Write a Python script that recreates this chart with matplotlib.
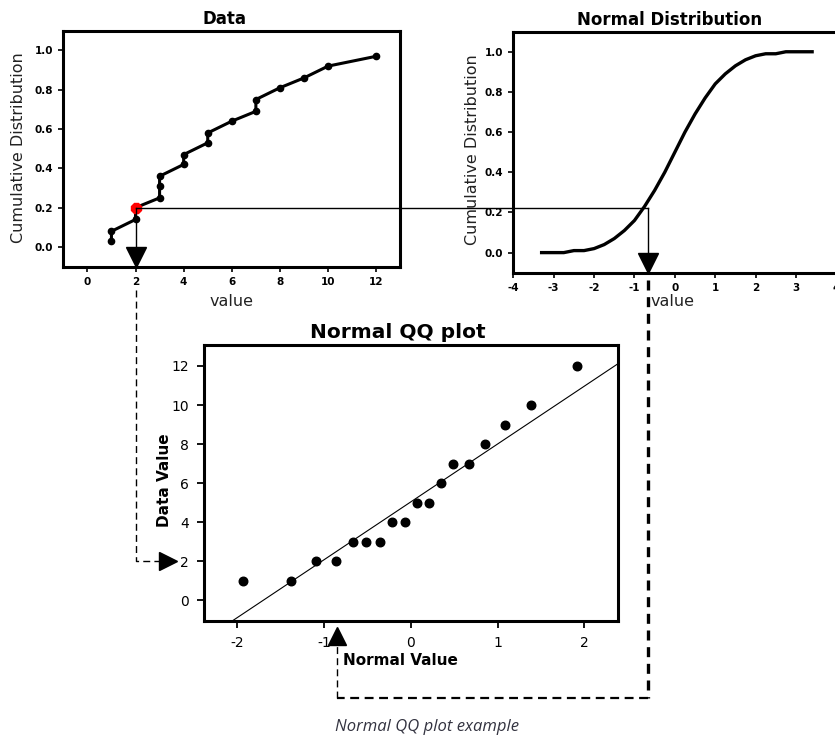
import matplotlib
matplotlib.use("Agg")
import matplotlib.pyplot as plt
from matplotlib.lines import Line2D
from matplotlib.ticker import FormatStrFormatter

plt.rcParams["axes.unicode_minus"] = False

data_sorted = [1, 1, 2, 2, 3, 3, 3, 4, 4, 5, 5, 6, 7, 7, 8, 9, 10, 12]
data_cum = [0.03, 0.08, 0.14, 0.20, 0.25, 0.31, 0.36, 0.42, 0.47, 0.53,
            0.58, 0.64, 0.69, 0.75, 0.81, 0.86, 0.92, 0.97]

# normal cdf curve
norm_x = [-3.3, -3.0, -2.75, -2.5, -2.25, -2.0, -1.75, -1.5, -1.25, -1.0, -0.75,
          -0.5, -0.25, 0.0, 0.25, 0.5, 0.75, 1.0, 1.25, 1.5, 1.75, 2.0, 2.25,
          2.5, 2.75, 3.0, 3.4]
norm_cdf = [0.00, 0.00, 0.00, 0.01, 0.01, 0.02, 0.04, 0.07, 0.11, 0.16, 0.23,
            0.31, 0.40, 0.50, 0.60, 0.69, 0.77, 0.84, 0.89, 0.93, 0.96, 0.98,
            0.99, 0.99, 1.00, 1.00, 1.00]

# QQ plot points
normal_values = [-1.93, -1.38, -1.09, -0.86, -0.67, -0.51, -0.35, -0.21, -0.07,
                 0.07, 0.21, 0.35, 0.49, 0.67, 0.86, 1.09, 1.38, 1.91]
qq_data = data_sorted
line_intercept = 5.03
line_slope = 2.97

# the highlighted example
picked_value = 2
picked_cum = 0.20
picked_normal = -0.67
qq_arrow_normal = -0.85
qq_arrow_data = 2

fig = plt.figure(figsize=(8.35, 7.4), dpi=100)
ax1 = fig.add_axes([0.0758, 0.6396, 0.4036, 0.3189])
ax2 = fig.add_axes([0.6148, 0.6315, 0.3868, 0.3257])
ax3 = fig.add_axes([0.2443, 0.1612, 0.4962, 0.3732])

small = dict(labelsize=7.5, length=3.5, width=1.2, pad=4)

# --- Data panel
ax1.plot(data_sorted, data_cum, color="k", lw=2.2, marker="o", ms=4.5)
ax1.plot(picked_value, picked_cum, marker="8", color="red", ms=8.5, zorder=5)
ax1.set_xlim(-1, 13)
ax1.set_ylim(-0.1, 1.1)
ax1.set_xticks(range(0, 13, 2))
ax1.set_yticks([0, 0.2, 0.4, 0.6, 0.8, 1.0])
ax1.yaxis.set_major_formatter(FormatStrFormatter("%.1f"))
ax1.set_title("Data", fontsize=12, fontweight="bold", pad=5, x=0.477)
ax1.set_xlabel("value", fontsize=11.5, color="#222222")
ax1.set_ylabel("Cumulative Distribution", fontsize=11.5, color="#222222")
ax1.xaxis.set_label_coords(0.5, -0.115)
ax1.yaxis.set_label_coords(-0.112, 0.505)

# --- Normal distribution panel
ax2.plot(norm_x, norm_cdf, color="k", lw=2.4)
ax2.set_xlim(-4, 4)
ax2.set_ylim(-0.1, 1.1)
ax2.set_xticks(range(-4, 5))
ax2.set_yticks([0, 0.2, 0.4, 0.6, 0.8, 1.0])
ax2.yaxis.set_major_formatter(FormatStrFormatter("%.1f"))
ax2.set_title("Normal Distribution", fontsize=12, fontweight="bold", pad=5, x=0.485)
ax2.set_xlabel("value", fontsize=11.5, color="#222222")
ax2.set_ylabel("Cumulative Distribution", fontsize=11.5, color="#222222")
ax2.xaxis.set_label_coords(0.494, -0.088)
ax2.yaxis.set_label_coords(-0.103, 0.509)
ax2.spines["right"].set_visible(False)

for ax in (ax1, ax2):
    ax.tick_params(**small)
    for lab in ax.get_xticklabels() + ax.get_yticklabels():
        lab.set_fontweight("bold")
    for s in ax.spines.values():
        s.set_linewidth(2.2)

# --- QQ panel
ax3.scatter(normal_values, qq_data, s=38, color="k", zorder=3)
ax3.set_xlim(-2.38, 2.39)
ax3.set_ylim(-1.06, 13.1)
lx = [-2.38, 2.39]
ax3.plot(lx, [line_intercept + line_slope * v for v in lx], color="k", lw=0.8)
ax3.set_xticks([-2, -1, 0, 1, 2])
ax3.set_yticks(range(0, 13, 2))
ax3.tick_params(labelsize=10, length=5, width=1.3, pad=6)
ax3.set_title("Normal QQ plot", fontsize=14.5, fontweight="bold", pad=5, x=0.468)
ax3.set_xlabel("Normal Value", fontsize=11, fontweight="bold")
ax3.set_ylabel("Data Value", fontsize=11, fontweight="bold")
ax3.xaxis.set_label_coords(0.473, -0.117)
ax3.yaxis.set_label_coords(-0.077, 0.51)
for s in ax3.spines.values():
    s.set_linewidth(2.2)


# connectors between the panels (figure coordinates)
def to_fig(ax, x, y):
    return fig.transFigure.inverted().transform(ax.transData.transform((x, y)))


def link(xs, ys, **kw):
    fig.add_artist(Line2D(xs, ys, transform=fig.transFigure, color="k", **kw))


red = to_fig(ax1, picked_value, picked_cum)
hit_x = to_fig(ax2, picked_normal, 0)[0]
link([red[0], hit_x], [red[1], red[1]], lw=1)
link([red[0], red[0]], [red[1], to_fig(ax1, 0, -0.05)[1]], lw=1)
link([hit_x, hit_x], [red[1], to_fig(ax2, 0, -0.05)[1]], lw=1)
ax1.plot(picked_value, -0.05, marker="v", ms=14, color="k", clip_on=False)
ax2.plot(picked_normal, -0.05, marker="v", ms=14, color="k", clip_on=False)

# left dashed path: data value 2 -> QQ y axis
top_l = to_fig(ax1, picked_value, -0.22)
lvl = to_fig(ax3, 0, qq_arrow_data)[1]
end_l = to_fig(ax3, -2.9, qq_arrow_data)[0]
link([top_l[0], top_l[0], end_l], [top_l[1], lvl, lvl], lw=1, ls=(0, (5, 3)))
ax3.plot(-2.80, qq_arrow_data, marker=">", ms=13, color="k", clip_on=False)

# right dashed path: normal value -> QQ x axis
top_r = to_fig(ax2, picked_normal, -0.136)
bot = to_fig(ax3, 0, -5.03)[1]
arr = to_fig(ax3, qq_arrow_normal, -1.85)
link([hit_x, hit_x], [top_r[1], bot], lw=2.4, ls=(0, (3, 2)))
link([hit_x, arr[0]], [bot, bot], lw=1.6, ls=(0, (4, 2.5)))
link([arr[0], arr[0]], [bot, arr[1]], lw=1, ls=(0, (5, 3)))
ax3.plot(qq_arrow_normal, -1.85, marker="^", ms=13, color="k", clip_on=False)

fig.text(427 / 835, 1 - 727 / 740, "Normal QQ plot example", fontsize=12,
         family="Open Sans", style="italic", color="#333340",
         ha="center", va="center")

fig.savefig("out.png", dpi=100)
